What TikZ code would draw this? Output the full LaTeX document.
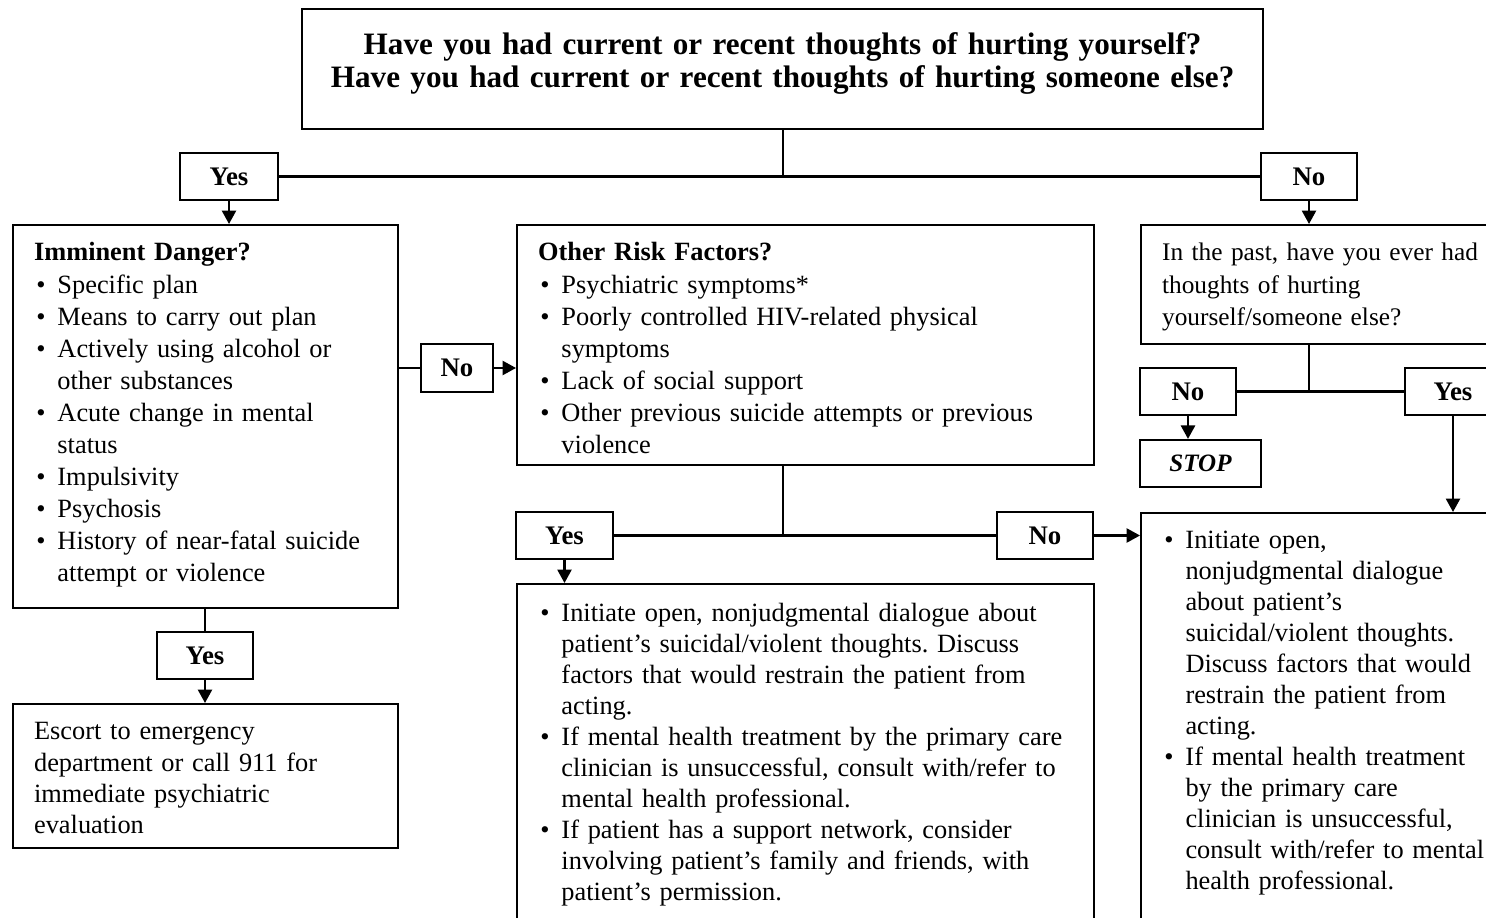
\documentclass[tikz,border=0pt]{standalone}
\usepackage{fontspec}
\setmainfont{Liberation Serif}
\usetikzlibrary{arrows.meta}

% bullet with hanging indent
\newcommand{\bulitem}{\noindent\hangindent=10.3pt\hangafter=1\makebox[10.3pt][l]{\hspace{1pt}\textbullet}}
\newcommand{\bul}{\par\bulitem}
% plain word spaces
\newcommand{\plainspace}{\frenchspacing\spaceskip=.25em\relax\xspaceskip=.25em\relax}

\tikzset{
  box/.style={draw, anchor=north west, align=left, inner xsep=9.24pt, inner ysep=0pt,
    font=\fontsize{11.6}{14.1}\selectfont\plainspace},
  lowbox/.style={box, font=\fontsize{11.6}{13.65}\selectfont\plainspace},
  answer/.style={draw, minimum width=42.2pt, minimum height=20.7pt, inner sep=0pt,
    font=\bfseries\fontsize{11.8}{14}\selectfont},
  arr/.style={-{Triangle[width=6.2pt,length=5.9pt]}}
}

\begin{document}
\begin{tikzpicture}[x=0.44pt, y=-0.44pt, line width=0.95pt]
    % Page
    \useasboundingbox (0,0) rectangle (1486,918);
    \fill[white] (0,0) rectangle (1486,918);
    \clip (0,0) rectangle (1486,918);

    % Question
    \node[box, align=center, text width=404.4pt, text height=20pt, text depth=32.8pt,
      font=\bfseries\fontsize{13.7}{14.5}\selectfont] (title) at (301,8)
      {Have you had current or recent thoughts of hurting yourself?\\
       Have you had current or recent thoughts of hurting someone else?};

    \node[answer, minimum width=43.1pt] (yes1) at (229,176.5) {Yes};
    \node[answer] (no1) at (1309,176.5) {No};

    % First level
    \node[box, text width=150.9pt, text height=15.8pt, text depth=152.8pt] (imm) at (12,224)
      {\textbf{Imminent Danger?}
       \bul Specific plan
       \bul Means to carry out plan
       \bul Actively using alcohol or\newline other substances
       \bul Acute change in mental\newline status
       \bul Impulsivity
       \bul Psychosis
       \bul History of near-fatal suicide\newline attempt or violence\par};

    \node[answer, minimum width=31.7pt, minimum height=21.1pt] (no2) at (457,368) {No};

    \node[box, text width=235.4pt, text height=15.8pt, text depth=89.8pt] (other) at (516,224)
      {\textbf{Other Risk Factors?}
       \bul Psychiatric symptoms*
       \bul Poorly controlled HIV-related physical\newline symptoms
       \bul Lack of social support
       \bul Other previous suicide attempts or previous\newline violence\par};

    \node[box, text width=160pt, text height=15.8pt, text depth=36.6pt,
      font=\fontsize{11.15}{14.1}\selectfont\plainspace] (past) at (1140,224)
      {In the past, have you ever had\newline thoughts of hurting\newline yourself/someone else?\par};

    \node[answer] (no4) at (1188,391.5) {No};
    \node[answer] (yes4) at (1453,391.5) {Yes};
    \node[answer, minimum width=53.2pt, font=\bfseries\itshape\fontsize{11}{13}\selectfont] (stop) at (1200.5,463.5) {STOP};

    % Second level
    \node[answer, minimum width=42.7pt] (yes3) at (564.5,535.5) {Yes};
    \node[answer] (no3) at (1045,535.5) {No};

    \node[lowbox, text width=235.4pt, text height=16.3pt, text depth=145pt] (mlow) at (516,583)
      {\bulitem Initiate open, nonjudgmental dialogue about\newline patient's suicidal/violent thoughts. Discuss\newline factors that would restrain the patient from\newline acting.
       \bul If mental health treatment by the primary care\newline clinician is unsuccessful, consult with/refer to\newline mental health professional.
       \bul If patient has a support network, consider\newline involving patient's family and friends, with\newline patient's permission.\par};

    \node[lowbox, text width=150pt, text height=15.4pt, text depth=176pt] (rlow) at (1140,512)
      {\bulitem Initiate open,\newline nonjudgmental dialogue\newline about patient's\newline suicidal/violent thoughts.\newline Discuss factors that would\newline restrain the patient from\newline acting.
       \bul If mental health treatment\newline by the primary care\newline clinician is unsuccessful,\newline consult with/refer to mental\newline health professional.\par};

    \node[answer] (yes5) at (205,655.5) {Yes};
    \node[lowbox, text width=150.9pt, text height=15.8pt, text depth=47.5pt] (esc) at (12,703)
      {Escort to emergency\newline department or call 911 for\newline immediate psychiatric\newline evaluation\par};

    % Connectors
    \draw (title.south) -- (title.south |- yes1.east);
    \draw (yes1.east) -- (no1.west);
    \draw[arr] (yes1.south) -- (yes1.south |- imm.north);
    \draw[arr] (no1.south) -- (no1.south |- past.north);
    \draw (imm.east |- no2.west) -- (no2.west);
    \draw[arr] (no2.east) -- (no2.east -| other.west);
    \draw (title.south |- other.south) -- (title.south |- yes3.east);
    \draw (yes3.east) -- (no3.west);
    \draw[arr] (no3.east) -- (no3.east -| rlow.west);
    \draw[arr] (yes3.south) -- (yes3.south |- mlow.north);
    \draw (no1.south |- past.south) -- (no1.south |- no4.east);
    \draw (no4.east) -- (yes4.west);
    \draw[arr] (no4.south) -- (no4.south |- stop.north);
    \draw[arr] (yes4.south) -- (yes4.south |- rlow.north);
    \draw (yes5.north |- imm.south) -- (yes5.north);
    \draw[arr] (yes5.south) -- (yes5.south |- esc.north);
\end{tikzpicture}
\end{document}
